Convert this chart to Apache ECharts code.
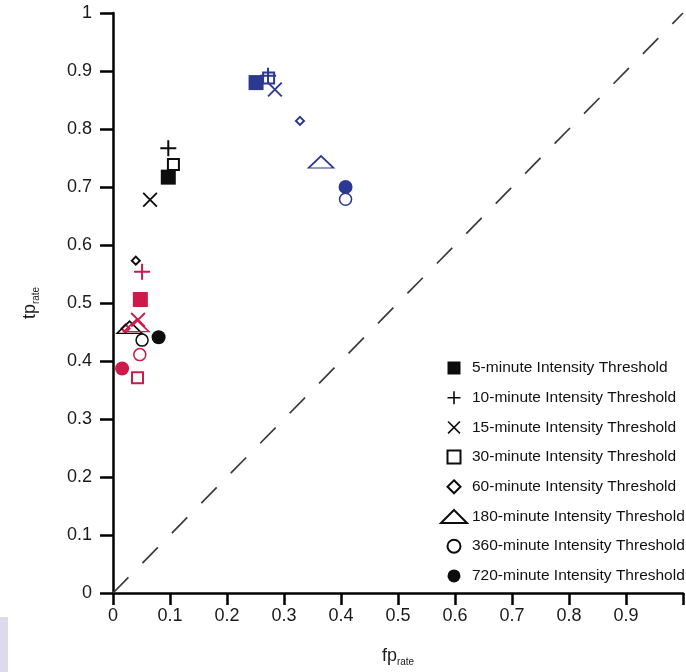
<!DOCTYPE html>
<html>
<head>
<meta charset="utf-8">
<script src="https://cdn.jsdelivr.net/npm/echarts@6/dist/echarts.min.js"></script>
<style>html,body{margin:0;padding:0;background:#fff;}#c{width:686px;height:672px;}</style>
</head>
<body>
<div id="c"></div>
<script>
// Series names (marker types)
var seriesNames = ['5-minute Intensity Threshold','10-minute Intensity Threshold','15-minute Intensity Threshold','30-minute Intensity Threshold','60-minute Intensity Threshold','180-minute Intensity Threshold','360-minute Intensity Threshold','720-minute Intensity Threshold'];
// [fp_rate, tp_rate] per threshold, in the order of seriesNames
var blackPts = [[0.097,0.717],[0.097,0.767],[0.065,0.678],[0.106,0.739],[0.040,0.573],[0.029,0.458],[0.051,0.436],[0.080,0.441]];
var redPts   = [[0.048,0.506],[0.051,0.554],[0.044,0.471],[0.043,0.371],[0.022,0.456],[0.041,0.461],[0.047,0.411],[0.016,0.387]];
var bluePts  = [[0.251,0.880],[0.272,0.892],[0.284,0.868],[0.273,0.888],[0.328,0.814],[0.365,0.743],[0.408,0.679],[0.408,0.700]];
var diagonal = [[0,0],[1,1]];
var xTicks = ['0','0.1','0.2','0.3','0.4','0.5','0.6','0.7','0.8','0.9','1'];
var yTicks = ['0','0.1','0.2','0.3','0.4','0.5','0.6','0.7','0.8','0.9','1'];

var groupColors = ['#0d0d0d','#cc1a4a','#2b3990'];
var groups = [blackPts, redPts, bluePts];

var SQ = 'path://M0,0H10V10H0Z';
var DIA = 'path://M5,0L10,5L5,10L0,5Z';
var PLUS = 'path://M0,7H16V9H0Z M7,0H9V16H7Z';
var CROSS = 'path://M0,1.4L1.4,0L16,14.6L14.6,16Z M14.6,0L16,1.4L1.4,16L0,14.6Z';

var styles = [
  {symbol:SQ, size:15, filled:true, keep:true},
  {symbol:PLUS, size:16, filled:true, keep:true},
  {symbol:CROSS, size:15, filled:true, keep:true},
  {symbol:SQ, size:11, filled:false, bw:2, keep:true},
  {symbol:DIA, size:8, filled:false, bw:2, keep:true},
  {symbol:'triangle', size:[25,12], filled:false, bw:1.6, keep:false},
  {symbol:'circle', size:12, filled:false, bw:1.5, keep:true},
  {symbol:'circle', size:14, filled:true, keep:true}
];

function makeSeries(i){
  var st = styles[i];
  var data = groups.map(function(g, gi){
    var c = groupColors[gi];
    return {
      value: g[i],
      itemStyle: st.filled ? {color:c, borderWidth:0, opacity:1} : {color:'rgba(255,255,255,0)', borderColor:c, borderWidth:st.bw, opacity:1}
    };
  });
  return {
    name: seriesNames[i],
    type: 'scatter',
    symbol: st.symbol,
    symbolSize: st.size,
    symbolKeepAspect: st.keep,
    itemStyle: st.filled ? {color:'#0d0d0d', borderWidth:0, opacity:1} : {color:'rgba(255,255,255,0)', borderColor:'#0d0d0d', borderWidth:st.bw, opacity:1},
    emphasis: {disabled:true},
    data: data,
    z: 3
  };
}

var order = [3,6,4,5,2,1,0,7];
var series = [{
  type:'line', data: diagonal, symbol:'none', silent:true,
  lineStyle:{color:'#3a3a3a', width:1.7, type:[22,20]}, z:1
}];
order.forEach(function(i){ series.push(makeSeries(i)); });

var FONT = 'Liberation Sans, Arial, sans-serif';
var labelStyle = {fontFamily:FONT, fontSize:18, color:'#1a1a1a'};

var option = {
  backgroundColor:'#fff',
  animation:false,
  grid:{left:113, top:13, width:585, height:583},
  graphic:[{type:'rect', shape:{x:0,y:617,width:8,height:55}, style:{fill:'#dddbeb'}, silent:true}],
  legend:{
    data: seriesNames,
    orient:'vertical', left:435, top:355,
    itemWidth:26, itemHeight:13, itemGap:13.7,
    textStyle:{fontFamily:FONT, fontSize:15.5, color:'#111'},
    selectedMode:false
  },
  xAxis:{
    type:'value', min:0, max:1, interval:0.1,
    name:'{a|fp}{b|rate}', nameLocation:'middle', nameGap:52,
    nameTextStyle:{rich:{a:{fontFamily:FONT, fontSize:18, color:'#1a1a1a'}, b:{fontFamily:FONT, fontSize:10, color:'#1a1a1a', padding:[12,0,0,0]}}},
    axisLine:{show:true, lineStyle:{color:'#000', width:2.5}},
    axisTick:{show:true, length:12, lineStyle:{color:'#000', width:2.5}},
    axisLabel:Object.assign({margin:14, formatter:function(v){var i=Math.round(v*10); return i<10 ? xTicks[i] : '';}}, labelStyle),
    splitLine:{show:false}
  },
  yAxis:{
    type:'value', min:0, max:1, interval:0.1,
    name:'{a|tp}{b|rate}', nameLocation:'middle', nameGap:72, nameRotate:90,
    nameTextStyle:{rich:{a:{fontFamily:FONT, fontSize:18, color:'#1a1a1a'}, b:{fontFamily:FONT, fontSize:10, color:'#1a1a1a', padding:[12,0,0,0]}}},
    axisLine:{show:true, lineStyle:{color:'#000', width:2.5}},
    axisTick:{show:true, length:13, lineStyle:{color:'#000', width:2.5}},
    axisLabel:Object.assign({margin:21, formatter:function(v){return yTicks[Math.round(v*10)];}}, labelStyle),
    splitLine:{show:false}
  },
  series: series
};
var chart = echarts.init(document.getElementById('c'), null, {renderer:'canvas'});
chart.setOption(option);
</script>
</body>
</html>
